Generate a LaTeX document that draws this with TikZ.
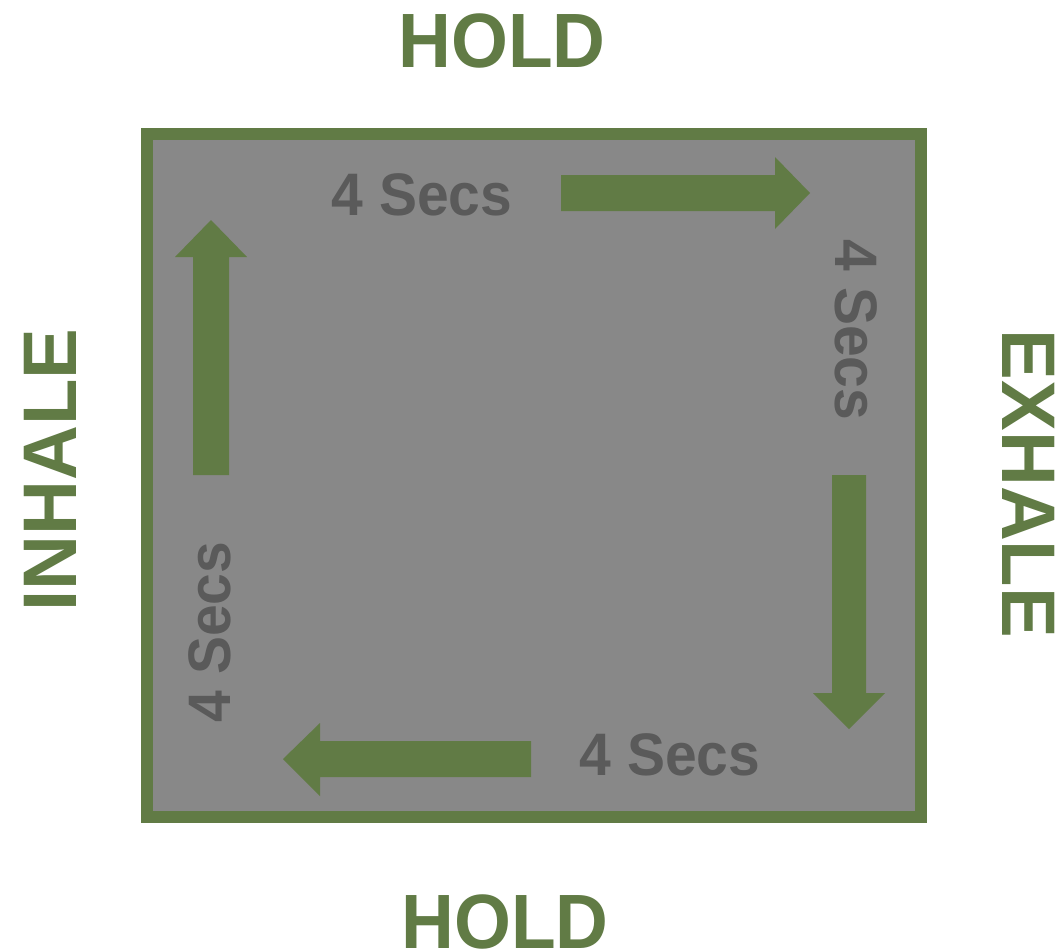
\documentclass[tikz,border=0pt]{standalone}
\usepackage{fontspec}
\setmainfont{Liberation Sans}
\definecolor{leaf}{RGB}{97,123,69}
\definecolor{panel}{RGB}{136,136,136}
\definecolor{secs}{RGB}{90,90,90}
\begin{document}
\begin{tikzpicture}[x=1pt,y=-1pt,
  phase/.style={text=leaf,font=\bfseries\fontsize{77}{77}\selectfont,inner sep=0pt,text height=55pt,text depth=0pt,xscale=0.95},
  phaseV/.style={text=leaf,font=\bfseries\fontsize{76}{76}\selectfont,inner sep=0pt,text height=54.4pt,text depth=0pt},
  secslabel/.style={text=secs,font=\bfseries\fontsize{60}{60}\selectfont,inner sep=0pt,text height=43pt,text depth=0pt,xscale=0.95},
  secslabelV/.style={text=secs,font=\bfseries\fontsize{60}{60}\selectfont,inner sep=0pt,text height=43pt,text depth=0pt,yscale=0.95},
  arrowshape/.style={fill=leaf,draw=none}]
\useasboundingbox (0,0) rectangle (1061,951);
\fill[white] (0,0) rectangle (1061,951);
% box
\draw[draw=leaf,fill=panel,line width=12pt] (147,134) rectangle (921,817);
% phase labels
\node[phase] (holdtop) at (502,40) {HOLD};
\node[phase] (holdbot) at (505,921) {HOLD};
\node[phaseV,rotate=90] (inhale) at (49,470) {INHALE};
\node[phaseV,rotate=-90] (exhale) at (1030,484) {EXHALE};
% secs labels
\node[secslabel] (stop) at (422,194) {4 Secs};
\node[secslabel] (sbot) at (670,754) {4 Secs};
\node[secslabelV,rotate=-90] (sright) at (857,330) {4 Secs};
\node[secslabelV,rotate=90] (sleft) at (209,632) {4 Secs};
% arrows
\fill[arrowshape] (561,175) -- (775,175) -- (775,157) -- (810,193) -- (775,229) -- (775,211) -- (561,211) -- cycle;
\fill[arrowshape] (832,475) -- (866,475) -- (866,693) -- (885,693) -- (849,729) -- (813,693) -- (832,693) -- cycle;
\fill[arrowshape] (531,741) -- (531,777) -- (320,777) -- (320,796) -- (283,759) -- (320,723) -- (320,741) -- cycle;
\fill[arrowshape] (193,475) -- (229,475) -- (229,257) -- (247,257) -- (211,220) -- (175,257) -- (193,257) -- cycle;
\end{tikzpicture}
\end{document}
